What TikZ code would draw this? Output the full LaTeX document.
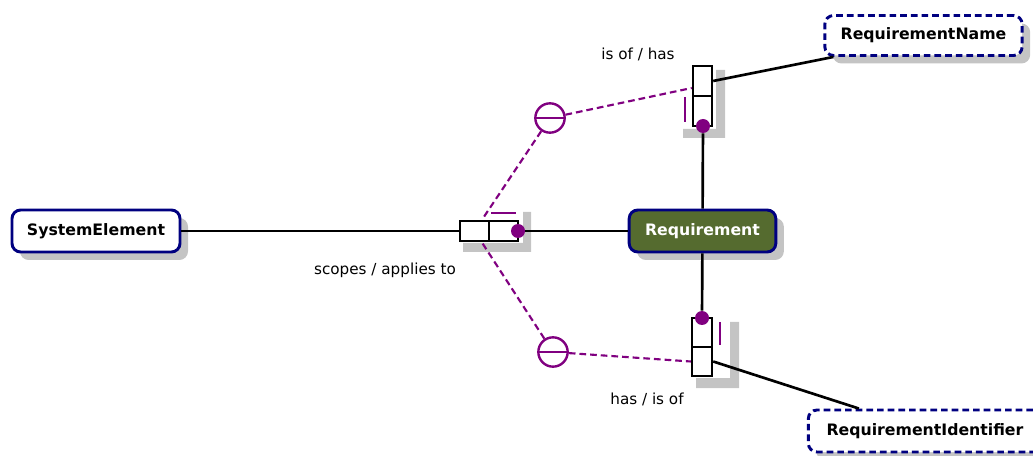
\documentclass[tikz,border=0pt]{standalone}
\usepackage{fontspec}
\setmainfont{DejaVu Sans}
\usetikzlibrary{shadows}
\definecolor{navy}{RGB}{0,0,128}
\definecolor{purp}{RGB}{128,0,128}
\definecolor{olive}{RGB}{85,107,47}
\definecolor{shade}{RGB}{196,196,196}
\begin{document}
\begin{tikzpicture}[x=0.75pt,y=-0.75pt,
  entity/.style={draw=navy, line width=2.2pt, rounded corners=6.5pt, inner sep=0pt,
     font=\bfseries\fontsize{11.8}{13}\selectfont,
     drop shadow={shadow xshift=6pt, shadow yshift=-6pt, fill=shade, opacity=1}},
  solident/.style={entity, fill=white},
  dashent/.style={entity, fill=white, dash pattern=on 5pt off 3pt},
  cell/.style={draw=black, line width=1.8pt, fill=white, inner sep=0pt},
  dotp/.style={circle, fill=purp, inner sep=0pt, minimum size=10.5pt},
  ring/.style={circle, draw=purp, line width=1.8pt, fill=white, inner sep=0pt, minimum size=22pt},
  link/.style={line width=2pt, black},
  plink/.style={line width=1.6pt, purp, dash pattern=on 5pt off 3pt},
  bar/.style={line width=2.2pt, purp},
  shad/.style={fill=shade, draw=none},
  lbl/.style={font=\fontsize{11.4}{13}\selectfont}
]
\useasboundingbox (0,0) rectangle (1033,456);

% entities
\node[solident, minimum width=126pt, minimum height=31.5pt] (se) at (96,231) {SystemElement};
\node[solident, fill=olive, text=white, minimum width=110pt, minimum height=31.5pt] (req) at (702.5,231) {Requirement};
\node[dashent, minimum width=148pt, minimum height=30pt] (rn) at (923.5,35.5) {RequirementName};
\node[dashent, minimum width=175pt, minimum height=31.5pt] (ri) at (925,431) {RequirementIdentifier};

% shadows of relation boxes
\fill[shad] (463,243) -- (523,243) -- (523,212) -- (531,212) -- (531,252) -- (463,252) -- cycle;
\fill[shad] (716,70) -- (725,70) -- (725,138) -- (683,138) -- (683,129) -- (716,129) -- cycle;
\fill[shad] (730,322) -- (739,322) -- (739,388) -- (696,388) -- (696,378) -- (730,378) -- cycle;

% rings
\node[ring] (c1) at (550,118) {};
\node[ring] (c2) at (553,352) {};
\draw[purp, line width=1.8pt] (c1.west) -- (c1.east);
\draw[purp, line width=1.8pt] (c2.west) -- (c2.east);

% relation boxes
\node[cell, minimum width=21.75pt, minimum height=15pt] (h1) at (474.5,231) {};
\node[cell, minimum width=21.75pt, minimum height=15pt] (h2) at (503.5,231) {};
\node[cell, minimum width=14.25pt, minimum height=22.5pt] (t1) at (702.5,81) {};
\node[cell, minimum width=14.25pt, minimum height=22.5pt] (t2) at (702.5,111) {};
\node[cell, minimum width=15pt, minimum height=21.75pt] (b1) at (702,332.5) {};
\node[cell, minimum width=15pt, minimum height=21.75pt] (b2) at (702,361.5) {};

\draw[plink] (c1) -- (h1);
\draw[plink] (c2) -- (h1);
\draw[plink] (c1) -- ([yshift=-5.25pt]t1.west);
\draw[plink] (c2) -- (b2.west);

% black links
\node[dotp] (hd) at (518,231) {};
\node[dotp] (td) at (703,126) {};
\node[dotp] (bd) at (702,318) {};
\draw[link] (se) -- (h1);
\draw[link] (hd) -- (req);
\draw[link] (req) -- (td);
\draw[link] (req) -- (bd);
\draw[link] (t1.east) -- ([xshift=7.5pt]rn.south west);
\draw[link] (b2.east) -- ([xshift=39pt]ri.north west);

% purple bars
\draw[bar] (491,213) -- (516,213);
\draw[bar] (685,97) -- (685,122);
\draw[bar] (720,322) -- (720,345);

% labels
\node[lbl] (l1) at (638,54) {is of / has};
\node[lbl] (l2) at (385,270) {scopes / applies to};
\node[lbl] (l3) at (647,399) {has / is of};
\end{tikzpicture}
\end{document}
